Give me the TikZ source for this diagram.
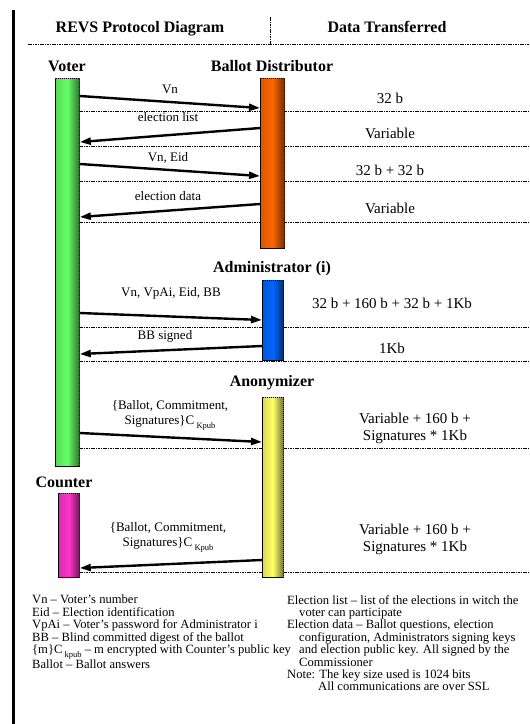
\documentclass[tikz,border=0pt]{standalone}
\usepackage{fontspec}
\setmainfont{Liberation Serif}
\usetikzlibrary{arrows.meta,positioning}
\definecolor{voterg}{RGB}{102,255,102}
\definecolor{distor}{RGB}{255,102,0}
\definecolor{adminbl}{RGB}{0,102,255}
\definecolor{anonye}{RGB}{255,255,102}
\definecolor{countpk}{RGB}{255,51,204}
\tikzset{
  >={Triangle[length=11pt,width=7pt]},
  bar/.style={draw=black,line width=0.8pt,dash pattern=on 1.2pt off 0.8pt,
    left color=#1!85!black,right color=#1!45!black,middle color=#1,
    minimum width=24pt,inner sep=0pt,anchor=north west},
  bar/.default=voterg,
  rule/.style={line width=0.9pt,dash pattern=on 1.5pt off 0.9pt},
  msg/.style={->,line width=2.4pt},
  head/.style={font=\fontsize{16}{18}\selectfont\bfseries,anchor=base,inner sep=0pt},
  lbl/.style={font=\fontsize{13}{15.5}\selectfont,align=center,inner sep=0pt},
  data/.style={font=\fontsize{15}{16.5}\selectfont,align=center,inner sep=0pt},
  note/.style={font=\fontsize{12.6}{12.4}\selectfont,align=left,inner sep=0pt,anchor=north west},
}
\newcommand\kpub[1]{C\,\raisebox{-3.5pt}{\fontsize{8.5}{8.5}\selectfont #1}}

\begin{document}
\begin{tikzpicture}[x=1pt,y=-1pt]
  \useasboundingbox (0,0) rectangle (530,724);
  % frame and header
  \draw[line width=2.7pt] (13.5,10) -- (13.5,724);
  \draw[rule] (270,17) -- (270,44);
  \draw[rule] (28,44) -- (530,44);
  \node[head] (title) at (140,32) {REVS Protocol Diagram};
  \node[head] (datahead) at (387,32) {Data Transferred};
  % row separators
  \foreach \y in {111,146,181,222,327,361,448,572}
    \draw[rule] (79,\y) -- (530,\y);
  % lifelines
  \node[bar=voterg,minimum height=388pt] (voter) at (55,78) {};
  \node[bar=distor,minimum height=170pt] (dist) at (260,78) {};
  \node[bar=adminbl,minimum width=21pt,minimum height=80pt] (admin) at (262,280) {};
  \node[bar=anonye,minimum width=21pt,minimum height=180pt] (anon) at (262,397) {};
  \node[bar=countpk,minimum width=21pt,minimum height=84pt] (count) at (58,493) {};
  \node[head] (voterlbl) at (67,71) {Voter};
  \node[head] (distlbl) at (272,71) {Ballot Distributor};
  \node[head] (adminlbl) at (272,272) {Administrator (i)};
  \node[head] (anonlbl) at (272,386) {Anonymizer};
  \node[head] (countlbl) at (64,487) {Counter};
  % messages
  \draw[msg] ([yshift=-18pt]voter.north east) -- ([yshift=-30pt]dist.north west);
  \draw[msg] ([yshift=-50pt]dist.north west) -- ([yshift=-64pt]voter.north east);
  \draw[msg] ([yshift=-86pt]voter.north east) -- ([yshift=-98pt]dist.north west);
  \draw[msg] ([yshift=-126pt]dist.north west) -- ([yshift=-139pt]voter.north east);
  \draw[msg] ([yshift=-235pt]voter.north east) -- ([yshift=-40pt]admin.north west);
  \draw[msg] ([yshift=-66pt]admin.north west) -- ([yshift=-276pt]voter.north east);
  \draw[msg] ([yshift=-355pt]voter.north east) -- ([yshift=-45pt]anon.north west);
  \draw[msg] ([yshift=-163pt]anon.north west) -- ([yshift=-75pt]count.north east);
  \node[lbl,anchor=base] (m1) at (170,93) {Vn};
  \node[lbl,anchor=base] (m2) at (168,121) {election list};
  \node[lbl,anchor=base] (m3) at (168,161) {Vn, Eid};
  \node[lbl,anchor=base] (m4) at (168,200) {election data};
  \node[lbl,anchor=base] (m5) at (171,296) {Vn, VpAi, Eid, BB};
  \node[lbl,anchor=base] (m6) at (165,339) {BB signed};
  \node[lbl,anchor=north] (m7) at (170,400) {\{Ballot, Commitment,\\Signatures\}\kpub{Kpub}};
  \node[lbl,anchor=north] (m8) at (168,522) {\{Ballot, Commitment,\\Signatures\}\kpub{Kpub}};
  % data transferred
  \node[data,anchor=base] (d1) at (390,103) {32 b};
  \node[data,anchor=base] (d2) at (390,138) {Variable};
  \node[data,anchor=base] (d3) at (390,175) {32 b + 32 b};
  \node[data,anchor=base] (d4) at (390,213) {Variable};
  \node[data,anchor=base] (d5) at (392,308) {32 b + 160 b + 32 b + 1Kb};
  \node[data,anchor=base] (d6) at (392,353) {1Kb};
  \node[data,anchor=north] (d7) at (415,413) {Variable + 160 b +\\Signatures * 1Kb};
  \node[data,anchor=north] (d8) at (415,524) {Variable + 160 b +\\Signatures * 1Kb};
  % legend
  \node[note] (keyleft) at (32,595) {Vn – Voter's number\\Eid – Election identification\\VpAi – Voter's password for Administrator i\\BB – Blind committed digest of the ballot\\\{m\}\kpub{kpub} – m encrypted with Counter's public key\\Ballot – Ballot answers};
  \node[note] (keyright) at (287,595) {Election list – list of the elections in witch the\\\hspace*{12pt}voter can participate\\Election data – Ballot questions, election\\\hspace*{12pt}configuration, Administrators signing keys\\\hspace*{12pt}and election public key. All signed by the\\\hspace*{12pt}Commissioner\\Note: The key size used is 1024 bits\\\hspace*{31pt}All communications are over SSL};
\end{tikzpicture}
\end{document}
